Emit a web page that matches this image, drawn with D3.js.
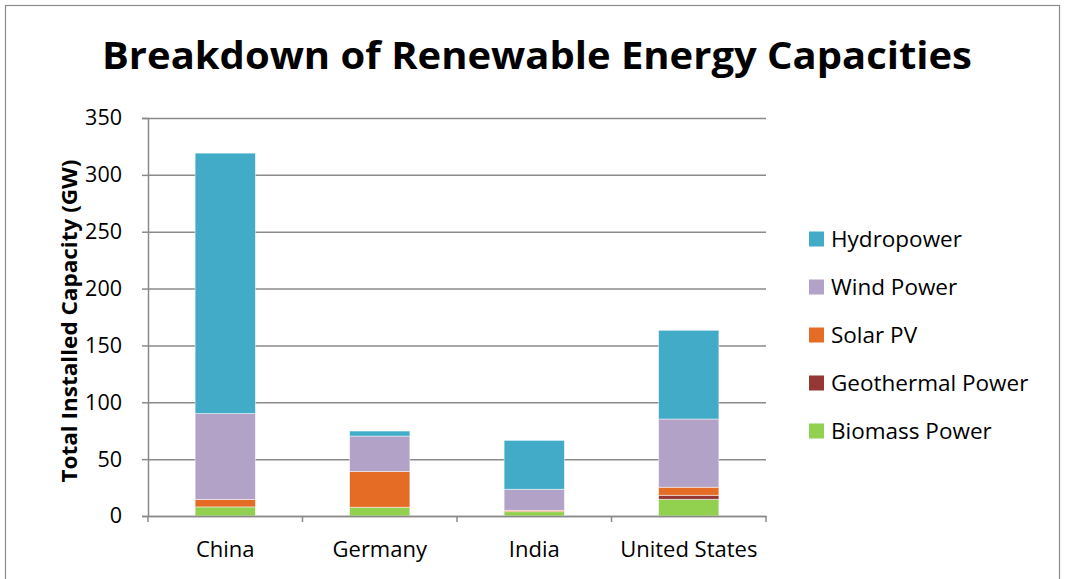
<!DOCTYPE html>
<html><head><meta charset="utf-8">
<script src="https://cdn.jsdelivr.net/npm/d3@7"></script>
<style>body{margin:0;background:#fff;} svg{display:block;font-family:"Open Sans",sans-serif;}</style>
</head><body>
<svg id="chart" width="1068" height="579"></svg>
<script>
const categories = ["China", "Germany", "India", "United States"];
const seriesNames = ["Biomass Power", "Geothermal Power", "Solar PV", "Wind Power", "Hydropower"];
const biomass    = [8, 7.7, 3.8, 14.7];
const geothermal = [0, 0, 0, 3.5];
const solar      = [6.5, 31.4, 1.2, 7.1];
const wind       = [75.6, 31.2, 18.5, 60];
const hydro      = [229, 4.4, 43, 78];
const yTicks = [0, 50, 100, 150, 200, 250, 300, 350];
const colors = ["#92D050", "#953735", "#E46C24", "#B3A2C7", "#41ABC8"];

const seriesValues = [biomass, geothermal, solar, wind, hydro];
const rows = categories.map((c, i) => {
  const r = {cat: c};
  seriesNames.forEach((s, j) => r[s] = seriesValues[j][i]);
  return r;
});
const stack = d3.stack().keys(seriesNames)(rows);

const svg = d3.select("#chart");
svg.append("rect").attr("x", 5.5).attr("y", 5.5).attr("width", 1054).attr("height", 590)
  .attr("fill", "#fff").attr("stroke", "#8c8c8c").attr("stroke-width", 1.2);

const pLeft = 148, pRight = 766, pTop = 118, pBottom = 516;
const x = d3.scaleBand().domain(categories).range([pLeft, pRight]).paddingInner(0.61).paddingOuter(0.305);
const y = d3.scaleLinear().domain([0, 350]).range([pBottom, pTop]);

const gy = svg.append("g").attr("transform", `translate(${pLeft},0)`)
  .call(d3.axisLeft(y).tickValues(yTicks).tickSize(-(pRight - pLeft)).tickFormat(""));
gy.select(".domain").remove();
gy.selectAll("line").attr("stroke", "#8a8a8a").attr("stroke-width", 1.5);

const ya = svg.append("g").attr("transform", `translate(${pLeft},0)`)
  .call(d3.axisLeft(y).tickValues(yTicks).tickSize(6).tickPadding(20));
ya.select(".domain").attr("stroke", "#8a8a8a").attr("stroke-width", 1.5);
ya.selectAll("line").attr("stroke", "#8a8a8a").attr("stroke-width", 1.5);
ya.selectAll("text").attr("font-size", 21.5).attr("fill", "#000").attr("font-family", "Open Sans, sans-serif");

svg.append("g").selectAll("g").data(stack).join("g")
  .attr("fill", (d, i) => colors[i])
  .selectAll("rect").data(d => d).join("rect")
  .attr("x", d => x(d.data.cat))
  .attr("width", x.bandwidth())
  .attr("y", d => y(d[1]))
  .attr("height", d => Math.max(0, y(d[0]) - y(d[1])))
  .attr("stroke", "#ffffff").attr("stroke-opacity", 0.6).attr("stroke-width", 0.8);

const xa = svg.append("g").attr("transform", `translate(0,${pBottom})`)
  .call(d3.axisBottom(x).tickSize(0).tickPadding(25));
xa.select(".domain").attr("stroke", "#8a8a8a").attr("stroke-width", 1.5);
xa.selectAll("text").attr("font-size", 22).attr("fill", "#000").attr("font-family", "Open Sans, sans-serif");
const step = x.step();
const bounds = d3.range(categories.length + 1).map(i => pLeft + i * step);
svg.append("g").selectAll("line").data(bounds).join("line")
  .attr("x1", d => d).attr("x2", d => d).attr("y1", pBottom).attr("y2", pBottom + 6)
  .attr("stroke", "#8a8a8a").attr("stroke-width", 1.5);

svg.append("text").attr("x", 537).attr("y", 69).attr("text-anchor", "middle")
  .attr("font-size", 38).attr("font-weight", "bold").attr("fill", "#000")
  .attr("textLength", 870).attr("lengthAdjust", "spacingAndGlyphs")
  .text("Breakdown of Renewable Energy Capacities");

svg.append("text").attr("transform", "translate(77,321) rotate(-90)").attr("text-anchor", "middle")
  .attr("font-size", 22).attr("font-weight", "bold").attr("fill", "#000")
  .attr("textLength", 323).attr("lengthAdjust", "spacingAndGlyphs")
  .text("Total Installed Capacity (GW)");

const legendOrder = [4, 3, 2, 1, 0];
const lg = svg.append("g").selectAll("g").data(legendOrder).join("g")
  .attr("transform", (d, i) => `translate(809,${239 + i * 48})`);
lg.append("rect").attr("x", 0).attr("y", -7.5).attr("width", 15).attr("height", 15).attr("fill", d => colors[d]);
lg.append("text").attr("x", 22).attr("y", 0).attr("dy", "0.35em")
  .attr("font-size", 22.5).attr("fill", "#000").text(d => seriesNames[d]);
</script>
</body></html>
